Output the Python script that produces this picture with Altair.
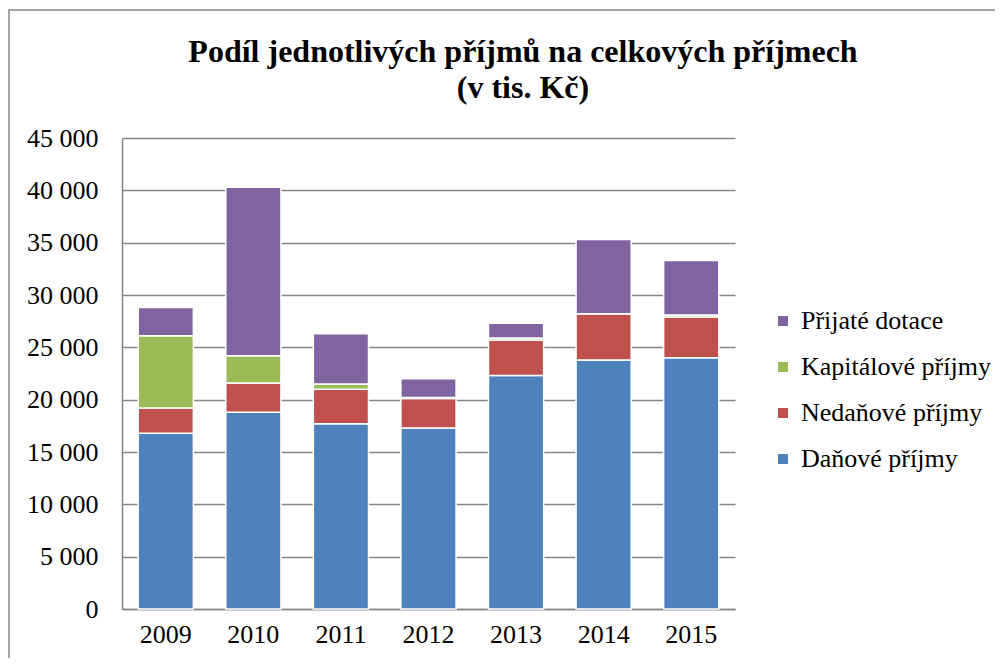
import altair as alt
import pandas as pd

years = ["2009", "2010", "2011", "2012", "2013", "2014", "2015"]
series = ["Daňové příjmy", "Nedaňové příjmy", "Kapitálové příjmy", "Přijaté dotace"]
danove = [16800, 18800, 17700, 17300, 22300, 23800, 24000]
nedanove = [2400, 2800, 3300, 2800, 3400, 4400, 3900]
kapitalove = [6900, 2600, 500, 100, 200, 0, 200]
dotace = [2700, 16100, 4800, 1800, 1400, 7100, 5200]
colors = ["#4F81BD", "#C0504D", "#9BBB59", "#8064A2"]
title_line1 = "Podíl jednotlivých příjmů na celkových příjmech"
title_line2 = "(v tis. Kč)"

rows = []
for i, y in enumerate(years):
    for k, (name, vals) in enumerate(zip(series, [danove, nedanove, kapitalove, dotace])):
        rows.append({"rok": y, "typ": name, "hodnota": vals[i], "poradi": k})
df = pd.DataFrame(rows)

FONT = "'Times New Roman', 'Liberation Serif', 'DejaVu Serif', serif"

bars = alt.Chart(df).mark_bar(stroke="white", strokeWidth=1.5).encode(
    x=alt.X("rok:N", sort=years, title=None,
            scale=alt.Scale(paddingInner=0.37, paddingOuter=0.185),
            axis=alt.Axis(labelAngle=0, labelFont=FONT, labelFontSize=26, labelColor="black",
                          domainColor="#868686", domainWidth=1.5, ticks=False, labelPadding=12)),
    y=alt.Y("sum(hodnota):Q", title=None,
            scale=alt.Scale(domain=[0, 45000]),
            axis=alt.Axis(values=list(range(0, 45001, 5000)),
                          labelExpr="replace(format(datum.value, ','), ',', ' ')",
                          labelFont=FONT, labelFontSize=26, labelColor="black",
                          gridColor="#868686", gridWidth=1.5, domainColor="#868686", domainWidth=1.5,
                          ticks=False, labelPadding=24)),
    color=alt.Color("typ:N", sort=series[::-1],
                    scale=alt.Scale(domain=series[::-1], range=colors[::-1]),
                    legend=alt.Legend(title=None, orient="none", legendX=648, legendY=170,
                                      labelFont=FONT, labelFontSize=26, labelColor="black",
                                      labelLimit=400,
                                      symbolType="square", symbolSize=100, symbolStrokeWidth=0,
                                      rowPadding=20, labelOffset=5)),
    order=alt.Order("poradi:Q", sort="ascending"),
)

border = alt.Chart(pd.DataFrame({"a": [0]})).mark_rect(
    fill=None, stroke="#868686", strokeWidth=1.5
).encode(x=alt.value(-113), x2=alt.value(1100), y=alt.value(-128), y2=alt.value(700))

one = pd.DataFrame({"a": [0]})
t1 = alt.Chart(one).mark_text(
    text=title_line1, font=FONT, fontSize=32, fontWeight="bold", color="black",
    align="center", baseline="alphabetic"
).encode(x=alt.value(401), y=alt.value(-76))
t2 = alt.Chart(one).mark_text(
    text=title_line2, font=FONT, fontSize=32, fontWeight="bold", color="black",
    align="center", baseline="alphabetic"
).encode(x=alt.value(401), y=alt.value(-40))

chart = alt.layer(bars, border, t1, t2).properties(
    width=613, height=471,
    autosize=alt.AutoSizeParams(type="none"),
    padding={"left": 114, "top": 130, "right": 260, "bottom": 49},
).configure_view(stroke=None)

chart.save("out.html", embed_options={"renderer": "svg", "actions": False})
